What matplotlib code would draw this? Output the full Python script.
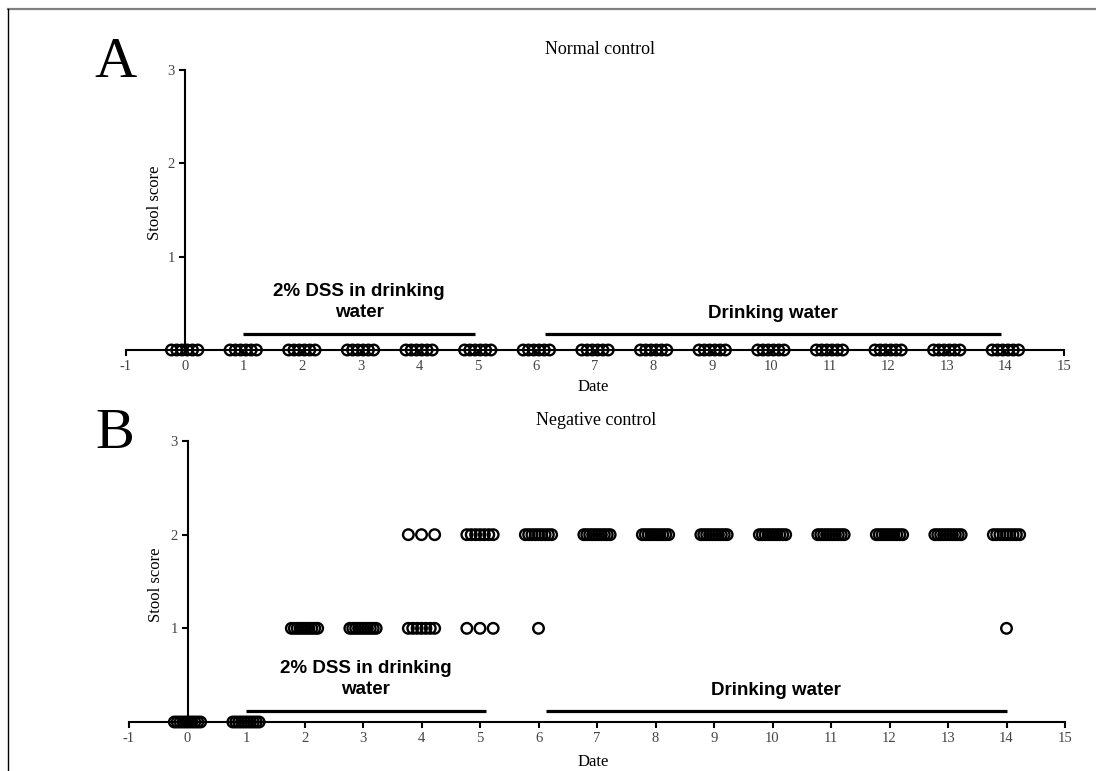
import numpy as np
import matplotlib
matplotlib.use("Agg")
import matplotlib.pyplot as plt
from matplotlib.lines import Line2D

# ---------------- data ----------------
days = [0, 1, 2, 3, 4, 5, 6, 7, 8, 9, 10, 11, 12, 13, 14]
x_ticks = [-1, 0, 1, 2, 3, 4, 5, 6, 7, 8, 9, 10, 11, 12, 13, 14, 15]
y_ticks = [1, 2, 3]

# Panel A (Normal control): number of mice with each stool score per day
normal_score0 = [6, 6, 6, 6, 6, 6, 6, 6, 6, 6, 6, 6, 6, 6, 6]
normal_score1 = [0, 0, 0, 0, 0, 0, 0, 0, 0, 0, 0, 0, 0, 0, 0]
normal_score2 = [0, 0, 0, 0, 0, 0, 0, 0, 0, 0, 0, 0, 0, 0, 0]

# Panel B (Negative control)
neg_score0 = [10, 10, 0, 0, 0, 0, 0, 0, 0, 0, 0, 0, 0, 0, 0]
neg_score1 = [0, 0, 10, 10, 7, 3, 1, 0, 0, 0, 0, 0, 0, 0, 1]
neg_score2 = [0, 0, 0, 0, 3, 7, 9, 10, 10, 10, 10, 10, 10, 10, 9]

# treatment phases (start, end) in days
dss_span_A = (1.0, 4.95)
water_span_A = (6.15, 13.93)
dss_span_B = (1.0, 5.1)
water_span_B = (6.12, 14.0)

SERIF = "Liberation Serif"
SANS = "Liberation Sans"

W, H = 1096, 771
fig = plt.figure(figsize=(W / 100, H / 100), dpi=100)


def fx(px):
    return px / W


def fy(py):
    return 1 - py / H


def scatter_counts(ax, counts_by_score):
    for score, counts in counts_by_score:
        xs, ys = [], []
        for d, k in zip(days, counts):
            if k <= 0:
                continue
            offs = [0.0] if k == 1 else np.linspace(-0.225, 0.225, k)
            for o in offs:
                xs.append(d + o)
                ys.append(score)
        if xs:
            ax.scatter(xs, ys, s=58, facecolors="none", edgecolors="black",
                       linewidths=1.7, clip_on=False, zorder=5)


def style_axes(ax):
    ax.set_xlim(-1, 15)
    ax.set_ylim(0, 3)
    ax.spines["top"].set_visible(False)
    ax.spines["right"].set_visible(False)
    ax.spines["left"].set_position(("data", 0))
    ax.spines["left"].set_linewidth(1.5)
    ax.spines["bottom"].set_linewidth(1.5)
    ax.set_xticks(x_ticks)
    ax.set_yticks(y_ticks)
    ax.set_xticklabels([str(t) for t in x_ticks])
    ax.set_yticklabels([str(t) for t in y_ticks])
    ax.tick_params(axis="both", direction="out", length=4, width=1.5,
                   labelsize=10.5, labelcolor="#444444", pad=3)
    for lab in ax.get_xticklabels() + ax.get_yticklabels():
        lab.set_fontfamily(SERIF)
    ax.patch.set_alpha(0)


def phase_bars(ax, dss, water, ybar, ydss, ywater):
    ax.plot(list(dss), [ybar, ybar], color="black", lw=2.3, clip_on=False,
            solid_capstyle="butt")
    ax.plot(list(water), [ybar, ybar], color="black", lw=2.3, clip_on=False,
            solid_capstyle="butt")
    ax.text(sum(dss) / 2, ydss, "2% DSS in drinking\nwater", ha="center",
            va="center", fontsize=13.5, fontweight="bold", family=SANS,
            linespacing=1.3, clip_on=False)
    ax.text(sum(water) / 2, ywater, "Drinking water", ha="center",
            va="center", fontsize=13.5, fontweight="bold", family=SANS,
            clip_on=False)


# ---------------- Panel A ----------------
axA = fig.add_axes([fx(126), fy(350), fx(938), 280 / H])
style_axes(axA)
scatter_counts(axA, [(0, normal_score0), (1, normal_score1), (2, normal_score2)])
phase_bars(axA, dss_span_A, water_span_A, 0.17, 0.51, 0.39)

# ---------------- Panel B ----------------
axB = fig.add_axes([fx(129), fy(722), fx(936), 281 / H])
style_axes(axB)
scatter_counts(axB, [(0, neg_score0), (1, neg_score1), (2, neg_score2)])
phase_bars(axB, dss_span_B, water_span_B, 0.117, 0.46, 0.34)

# ---------------- texts ----------------
fig.text(fx(600), fy(50), "Normal control", ha="center", va="center",
         fontsize=13, family=SERIF)
fig.text(fx(596), fy(421), "Negative control", ha="center", va="center",
         fontsize=13, family=SERIF)
fig.text(fx(593), fy(387), "Date", ha="center", va="center", fontsize=12,
         family=SERIF)
fig.text(fx(593), fy(762), "Date", ha="center", va="center", fontsize=12,
         family=SERIF)
fig.text(fx(155), fy(203), "Stool score", ha="center", va="center",
         rotation=90, fontsize=12, family=SERIF)
fig.text(fx(156), fy(585), "Stool score", ha="center", va="center",
         rotation=90, fontsize=12, family=SERIF)
fig.text(fx(115), fy(63), "A", ha="center", va="center", fontsize=42,
         family=SERIF)
fig.text(fx(115), fy(434), "B", ha="center", va="center", fontsize=42,
         family=SERIF)

# figure frame (top gray line, left black line)
fig.add_artist(Line2D([fx(8), 1], [fy(9), fy(9)], color="#808080", lw=1.6,
                      transform=fig.transFigure))
fig.add_artist(Line2D([fx(8), fx(8)], [fy(9), 0], color="black", lw=1.0,
                      transform=fig.transFigure))

fig.savefig("out.png", dpi=100)
